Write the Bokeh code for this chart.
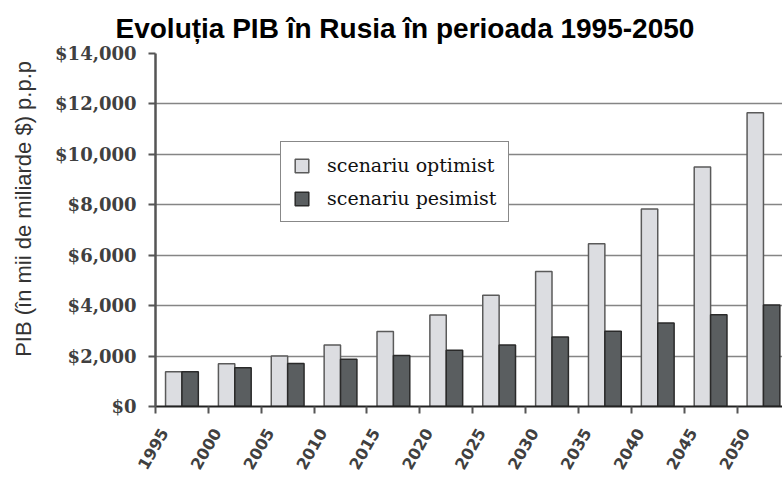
import math
from bokeh.plotting import figure
from bokeh.layouts import row
from bokeh.models import FixedTicker, NumeralTickFormatter, Title, Legend, Label
from bokeh.embed import file_html
from bokeh.resources import INLINE

years = ["1995", "2000", "2005", "2010", "2015", "2020", "2025", "2030", "2035", "2040", "2045", "2050"]
optimist = [1380, 1700, 2000, 2440, 2970, 3630, 4410, 5350, 6450, 7830, 9500, 11650]
pesimist = [1380, 1540, 1710, 1870, 2020, 2230, 2440, 2760, 2980, 3310, 3640, 4030]
y_ticks = [0, 2000, 4000, 6000, 8000, 10000, 12000, 14000]
y_title = "PIB (în mii de miliarde $) p.p.p"

idx = list(range(len(years)))
x_opt = [i + 0.345 for i in idx]
x_pes = [i + 0.655 for i in idx]
label_pos = [i + 0.16 for i in idx]

# narrow strip holding the y-axis title
LW = 40
p0 = figure(width=LW, height=477, output_backend="svg", toolbar_location=None,
            x_range=(0, LW), y_range=(0, 477), x_axis_type=None, y_axis_type=None,
            min_border=0)
p0.outline_line_color = None
p0.background_fill_color = "white"
p0.border_fill_color = "white"
p0.add_layout(Label(x=23, y=267, text=y_title, angle=math.pi / 2,
                    text_align="center", text_baseline="alphabetic",
                    text_font="Liberation Sans", text_font_size="22px",
                    text_color="#333333"))

p = figure(width=782 - LW, height=477, output_backend="svg", toolbar_location=None,
           x_range=(0, 11.86), y_range=(0, 14000),
           min_border_left=155 - LW, min_border_right=0, min_border_top=53, min_border_bottom=70)
p.background_fill_color = "white"
p.border_fill_color = "white"
p.outline_line_color = None

r1 = p.vbar(x=x_opt, top=optimist, width=0.31, fill_color="#dcdde1", line_color="#5a5a5a", line_width=1.5)
r2 = p.vbar(x=x_pes, top=pesimist, width=0.31, fill_color="#5a5e60", line_color="#2a2a2a", line_width=1.5)

# title
t = Title(text="Evoluția PIB în Rusia în perioada 1995-2050", align="left", offset=-40,
          text_font="Liberation Sans", text_font_size="28px", text_font_style="bold",
          text_color="#000000", standoff=19)
p.add_layout(t, "above")

# y axis
p.yaxis.ticker = FixedTicker(ticks=y_ticks)
p.yaxis.formatter = NumeralTickFormatter(format="$0,0")
p.yaxis.major_label_text_font = "DejaVu Serif"
p.yaxis.major_label_text_font_style = "bold"
p.yaxis.major_label_text_font_size = "18px"
p.yaxis.major_label_text_color = "#404040"
p.yaxis.major_label_standoff = 12
p.yaxis.major_tick_out = 7
p.yaxis.major_tick_in = 0
p.yaxis.major_tick_line_color = "#555555"
p.yaxis.major_tick_line_width = 2
p.yaxis.minor_tick_line_color = None
p.yaxis.axis_line_color = "#555555"
p.yaxis.axis_line_width = 2.5

# x axis
p.xaxis.ticker = FixedTicker(ticks=label_pos, minor_ticks=list(range(0, 12)))
p.xaxis.major_label_overrides = {pos: y for pos, y in zip(label_pos, years)}
p.xaxis.major_label_orientation = math.radians(60)
p.xaxis.major_label_text_font = "DejaVu Sans"
p.xaxis.major_label_text_font_style = "bold"
p.xaxis.major_label_text_font_size = "16px"
p.xaxis.major_label_text_color = "#404040"
p.xaxis.major_label_standoff = 16
p.xaxis.major_tick_line_color = None
p.xaxis.major_tick_out = 7
p.xaxis.major_tick_in = 0
p.xaxis.minor_tick_line_color = "#555555"
p.xaxis.minor_tick_line_width = 2
p.xaxis.minor_tick_out = 7
p.xaxis.minor_tick_in = 0
p.xaxis.axis_line_color = "#222222"
p.xaxis.axis_line_width = 2

p.xgrid.grid_line_color = None
p.ygrid.ticker = FixedTicker(ticks=y_ticks)
p.ygrid.grid_line_color = "#858585"
p.ygrid.grid_line_width = 1.5

legend = Legend(items=[("scenariu optimist", [r1]), ("scenariu pesimist", [r2])],
                location=(125, 184), padding=12, spacing=11,
                glyph_width=17, glyph_height=17, label_standoff=17,
                label_text_font="DejaVu Serif", label_text_font_size="19px",
                label_text_color="#111111",
                border_line_color="#111111", border_line_width=1.5,
                background_fill_color="white", background_fill_alpha=1.0)
p.add_layout(legend, "center")

layout = row(p0, p, spacing=0)
open("out.html", "w").write(file_html(layout, INLINE))
